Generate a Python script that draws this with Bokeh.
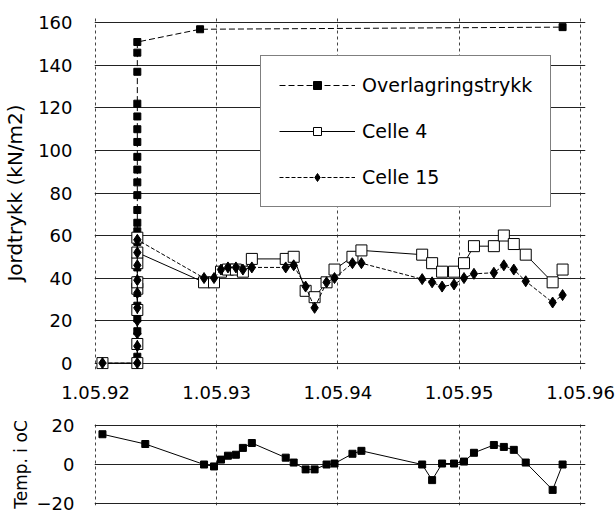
import pandas as pd
from bokeh.plotting import figure
from bokeh.layouts import column
from bokeh.models import Range1d, FixedTicker, CustomJSTickFormatter, Legend, LegendItem
from bokeh.embed import file_html
from bokeh.resources import INLINE

FONT = "DejaVu Sans"

# ---------------- data ----------------
tick_dates = ["1992-05-01", "1993-05-01", "1994-05-01", "1995-05-01", "1996-05-01"]
tick_labels = ["1.05.92", "1.05.93", "1.05.94", "1.05.95", "1.05.96"]
y_ticks = [0, 20, 40, 60, 80, 100, 120, 140, 160]
temp_ticks = [-20, 0, 20]

first_date = "1992-05-22"
install_date = "1992-09-04"

obs_dates = ["1993-03-24", "1993-04-23", "1993-05-14", "1993-06-04", "1993-06-28",
             "1993-07-19", "1993-08-15", "1993-11-25", "1993-12-19", "1994-01-24",
             "1994-02-20", "1994-03-28", "1994-04-21", "1994-06-14", "1994-07-11",
             "1995-01-10", "1995-02-09", "1995-03-11", "1995-04-16", "1995-05-16",
             "1995-06-15", "1995-08-14", "1995-09-13", "1995-10-13", "1995-11-18",
             "1996-02-07", "1996-03-08"]

overlag_install = [0, 3, 9, 15, 21, 27, 33, 39, 45, 51, 57, 62, 66, 72, 79, 85, 91,
                   97, 104, 110, 116, 122, 137, 146, 151]
overlag_later_dates = ["1993-03-12", "1996-03-08"]
overlag_later = [157, 158]

celle4_first = [0]
celle4_install = [0, 9, 25, 35, 38, 47, 59, 52]
celle4_obs = [38, 38, 43, 44, 44, 43, 49, 49, 50, 34, 31, 38, 44, 50, 53,
              51, 47, 43, 43, 47, 55, 55, 60, 56, 51, 38, 44]

celle15_first = [0]
celle15_install = [0, 8, 14, 20, 26, 33, 39, 46, 52, 58]
celle15_obs = [40, 40, 44, 45, 45, 44, 45, 45, 46, 36, 26, 38, 40, 47, 47,
               39.5, 38, 36, 37, 40, 42, 42.5, 46, 44, 38.5, 28.5, 32]

temp_early_dates = ["1992-05-22", "1992-09-28"]
temp_early = [15.5, 10.5]
temp_obs = [0, -1, 2.5, 4.5, 5, 8.5, 11, 3.5, 1, -2.5, -2.5, 0, 0.5, 5.5, 7,
            0, -8, 0.5, 0.5, 1.5, 6, 10, 9, 7.5, 1, -13, 0]


def to_ms(lst):
    return [pd.Timestamp(d).value / 1e6 for d in lst]


ov_x = to_ms([install_date] * len(overlag_install) + overlag_later_dates)
ov_y = overlag_install + overlag_later
c4_x = to_ms([first_date] * len(celle4_first) + [install_date] * len(celle4_install) + obs_dates)
c4_y = celle4_first + celle4_install + celle4_obs
c15_x = to_ms([first_date] * len(celle15_first) + [install_date] * len(celle15_install) + obs_dates)
c15_y = celle15_first + celle15_install + celle15_obs
t_x = to_ms(temp_early_dates + obs_dates)
t_y = temp_early + temp_obs

tick_ms = to_ms(tick_dates)
xr = Range1d(start=pd.Timestamp("1992-04-28").value / 1e6,
             end=pd.Timestamp("1996-05-16").value / 1e6)

fmt = CustomJSTickFormatter(args=dict(tv=tick_ms, labels=tick_labels), code="""
let best = 0, bd = Infinity;
for (let i = 0; i < tv.length; i++) { const d = Math.abs(tv[i] - tick); if (d < bd) { bd = d; best = i; } }
return labels[best];
""")


def style_common(p):
    p.outline_line_color = None
    p.background_fill_color = "white"
    p.border_fill_color = "white"
    p.xgrid.ticker = FixedTicker(ticks=tick_ms)
    p.xgrid.grid_line_color = "#444444"
    p.xgrid.grid_line_dash = "3 3"
    p.xgrid.grid_line_width = 1
    p.ygrid.grid_line_color = "#222222"
    p.ygrid.grid_line_width = 1
    for ax in (p.xaxis[0], p.yaxis[0]):
        ax.axis_line_color = None
        ax.major_tick_line_color = None
        ax.minor_tick_line_color = None
        ax.major_label_text_font = FONT
        ax.major_label_text_color = "black"
        ax.axis_label_text_font = FONT
        ax.axis_label_text_font_style = "normal"
        ax.axis_label_text_color = "black"


# ---------------- top plot ----------------
p1 = figure(width=615, height=408, output_backend="svg", toolbar_location=None,
            x_range=xr, y_range=Range1d(-3, 163),
            min_border_left=94, min_border_right=30, min_border_top=16, min_border_bottom=39)
style_common(p1)
p1.ygrid.ticker = FixedTicker(ticks=y_ticks)
p1.xaxis.ticker = FixedTicker(ticks=tick_ms)
p1.xaxis.formatter = fmt
p1.xaxis.major_label_text_font_size = "18px"
p1.xaxis.major_label_standoff = 10
p1.yaxis.ticker = FixedTicker(ticks=y_ticks)
p1.yaxis.major_label_text_font_size = "18px"
p1.yaxis.major_label_standoff = 16
p1.yaxis.axis_label = "Jordtrykk (kN/m2)"
p1.yaxis.axis_label_text_font_size = "20px"
p1.yaxis.axis_label_standoff = 8

ov_l = p1.line(ov_x, ov_y, line_color="black", line_width=1, line_dash="6 3")
ov_m = p1.scatter(ov_x, ov_y, marker="square", size=7, fill_color="black", line_color="black")
c4_l = p1.line(c4_x, c4_y, line_color="black", line_width=1)
c4_m = p1.scatter(c4_x, c4_y, marker="square", size=11, fill_color="white", line_color="black", line_width=1)
c15_l = p1.line(c15_x, c15_y, line_color="black", line_width=1, line_dash="4 2")
c15_m = p1.scatter(c15_x, c15_y, marker="diamond", size=11, fill_color="black", line_color="black")

legend = Legend(items=[
    LegendItem(label="Overlagringstrykk", renderers=[ov_l, ov_m]),
    LegendItem(label="Celle 4", renderers=[c4_l, c4_m]),
    LegendItem(label="Celle 15", renderers=[c15_l, c15_m]),
], location=(166, 162))
legend.label_text_font = FONT
legend.label_text_font_size = "19px"
legend.label_text_color = "black"
legend.glyph_width = 76
legend.glyph_height = 20
legend.label_height = 20
legend.label_standoff = 7
legend.spacing = 24
legend.padding = 18
legend.margin = 0
legend.border_line_color = "black"
legend.border_line_width = 1
legend.background_fill_color = "white"
legend.background_fill_alpha = 1
p1.add_layout(legend)

# ---------------- bottom plot ----------------
p2 = figure(width=615, height=106, output_backend="svg", toolbar_location=None,
            x_range=xr, y_range=Range1d(-21, 21),
            min_border_left=94, min_border_right=30, min_border_top=15, min_border_bottom=9)
style_common(p2)
p2.ygrid.ticker = FixedTicker(ticks=temp_ticks)
p2.xaxis.visible = False
p2.yaxis.ticker = FixedTicker(ticks=temp_ticks)
p2.yaxis.major_label_text_font_size = "18px"
p2.yaxis.major_label_standoff = 14
p2.yaxis.axis_label = "Temp. i oC"
p2.yaxis.axis_label_text_font_size = "17px"
p2.yaxis.axis_label_standoff = 3

p2.line(t_x, t_y, line_color="black", line_width=1)
p2.scatter(t_x, t_y, marker="square", size=7, fill_color="black", line_color="black")

layout = column(p1, p2, spacing=0)
open("out.html", "w").write(file_html(layout, INLINE))
